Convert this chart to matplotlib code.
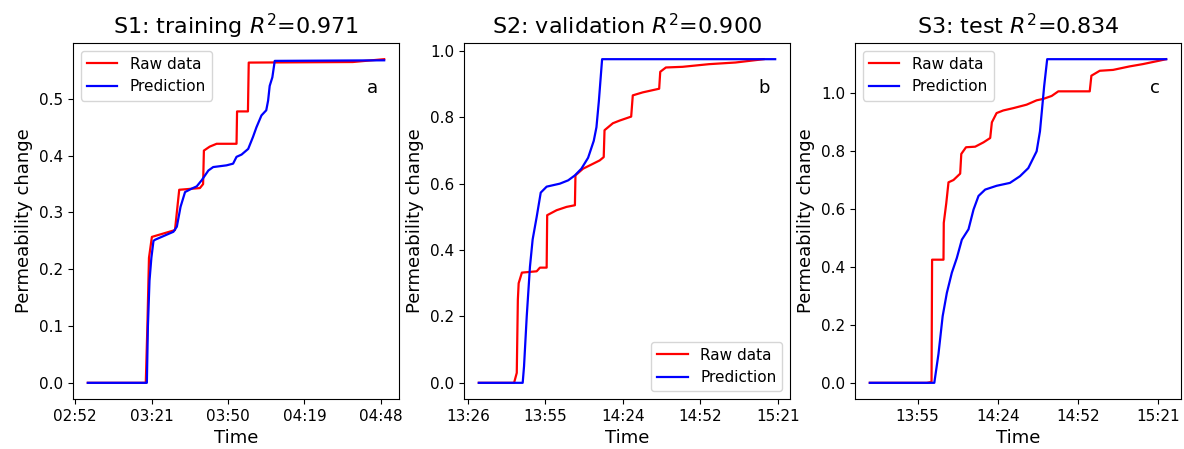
import matplotlib
matplotlib.use("Agg")
import numpy as np
import matplotlib.pyplot as plt
from matplotlib.dates import DateFormatter

# times are minutes of the day, values are permeability change
s1_raw_t = [177.55, 199.4, 200.0, 200.6, 201.7, 210.4, 211.1, 212.0, 219.8, 221.0, 221.3,
            223.5, 226.1, 233.6, 233.8, 237.9, 238.2, 277.4, 289.25]
s1_raw_v = [0, 0, 0.10, 0.22, 0.257, 0.269, 0.30, 0.340, 0.343, 0.350, 0.409,
            0.416, 0.421, 0.421, 0.478, 0.478, 0.564, 0.565, 0.570]
s1_pred_t = [177.55, 199.8, 200.2, 200.8, 201.5, 202.3, 202.9, 209.8, 211.1, 212.5, 214.2,
             216.7, 218.6, 220.5, 223.0, 224.8, 229.8, 232.3, 233.6, 235.5, 238.0, 239.8,
             241.1, 243.0, 244.8, 245.5, 246.1, 247.1, 248.0, 289.25]
s1_pred_v = [0, 0, 0.10, 0.18, 0.22, 0.25, 0.252, 0.266, 0.275, 0.31, 0.336,
             0.342, 0.346, 0.357, 0.374, 0.380, 0.383, 0.386, 0.398, 0.402, 0.412, 0.433,
             0.450, 0.471, 0.480, 0.497, 0.523, 0.538, 0.567, 0.568]

s2_raw_t = [810.5, 823.6, 824.6, 825.0, 825.3, 826.5, 832.0, 833.2, 835.7, 835.9, 839.4,
            843.1, 846.2, 846.4, 849.2, 851.7, 855.4, 856.9, 857.2, 860.3, 862.8, 867.1,
            867.7, 871.4, 877.5, 877.9, 880.0, 886.2, 896.0, 905.9, 916.3]
s2_raw_v = [0, 0, 0.03, 0.25, 0.30, 0.332, 0.336, 0.347, 0.347, 0.505, 0.52,
            0.53, 0.535, 0.625, 0.645, 0.655, 0.670, 0.680, 0.761, 0.782, 0.790, 0.802,
            0.866, 0.875, 0.886, 0.937, 0.950, 0.952, 0.960, 0.965, 0.975]
s2_pred_t = [810.5, 826.8, 827.3, 828.3, 829.5, 830.5, 832.0, 833.5, 835.7, 840.6, 843.7,
             846.2, 848.6, 851.1, 853.2, 854.2, 855.1, 856.3, 920.6]
s2_pred_v = [0, 0, 0.05, 0.20, 0.35, 0.432, 0.50, 0.573, 0.591, 0.600, 0.610,
             0.625, 0.645, 0.678, 0.729, 0.77, 0.849, 0.975, 0.975]

s3_raw_t = [818.0, 838.5, 840.2, 840.4, 844.5, 844.6, 845.5, 846.3, 848.1, 850.5, 850.9,
            852.6, 855.9, 858.9, 861.3, 861.9, 863.6, 866.0, 869.6, 874.4, 878.0, 880.4,
            883.4, 885.8, 897.1, 897.7, 900.7, 905.5, 911.4, 916.2, 922.2, 924.6]
s3_raw_v = [0, 0, 0.003, 0.425, 0.425, 0.552, 0.62, 0.692, 0.70, 0.722, 0.79,
            0.813, 0.815, 0.83, 0.845, 0.899, 0.931, 0.94, 0.948, 0.96, 0.975, 0.98,
            0.99, 1.006, 1.006, 1.06, 1.077, 1.08, 1.092, 1.10, 1.112, 1.117]
s3_pred_t = [818.0, 841.2, 842.7, 844.2, 845.7, 847.5, 849.3, 851.1, 853.5, 855.3, 857.1,
             859.5, 863.6, 868.4, 872.0, 875.0, 878.0, 879.2, 880.0, 880.7, 881.8, 924.6]
s3_pred_v = [0, 0, 0.10, 0.23, 0.31, 0.38, 0.431, 0.494, 0.53, 0.598, 0.645,
             0.667, 0.680, 0.69, 0.713, 0.741, 0.799, 0.868, 0.95, 1.023, 1.117, 1.117]

titles = ["S1: training $R^2$=0.971", "S2: validation $R^2$=0.900", "S3: test $R^2$=0.834"]
letters = ["a", "b", "c"]
legend_locs = ["upper left", "lower right", "upper left"]

panels = [
    (s1_raw_t, s1_raw_v, s1_pred_t, s1_pred_v),
    (s2_raw_t, s2_raw_v, s2_pred_t, s2_pred_v),
    (s3_raw_t, s3_raw_v, s3_pred_t, s3_pred_v),
]

fig = plt.figure(figsize=(11.84, 4.49), dpi=100)
lefts = [73, 464, 855]
for i, (rt, rv, pt, pv) in enumerate(panels):
    ax = fig.add_axes([lefts[i] / 1184, 50 / 449, 326 / 1184, 356 / 449])
    # minutes -> fraction of a day so DateFormatter gives HH:MM
    ax.plot(np.array(rt) / 1440.0, rv, color="red", lw=1.6, label="Raw data")
    ax.plot(np.array(pt) / 1440.0, pv, color="blue", lw=1.6, label="Prediction")
    ax.xaxis.set_major_formatter(DateFormatter("%H:%M"))
    ax.set_title(titles[i], fontsize=16)
    ax.set_xlabel("Time", fontsize=13)
    ax.set_ylabel("Permeability change", fontsize=13)
    ax.tick_params(labelsize=11)
    ax.legend(loc=legend_locs[i], fontsize=11)
    ax.text(0.92, 0.874, letters[i], transform=ax.transAxes, fontsize=13,
            ha="center", va="center")

fig.savefig("out.png", dpi=100)
